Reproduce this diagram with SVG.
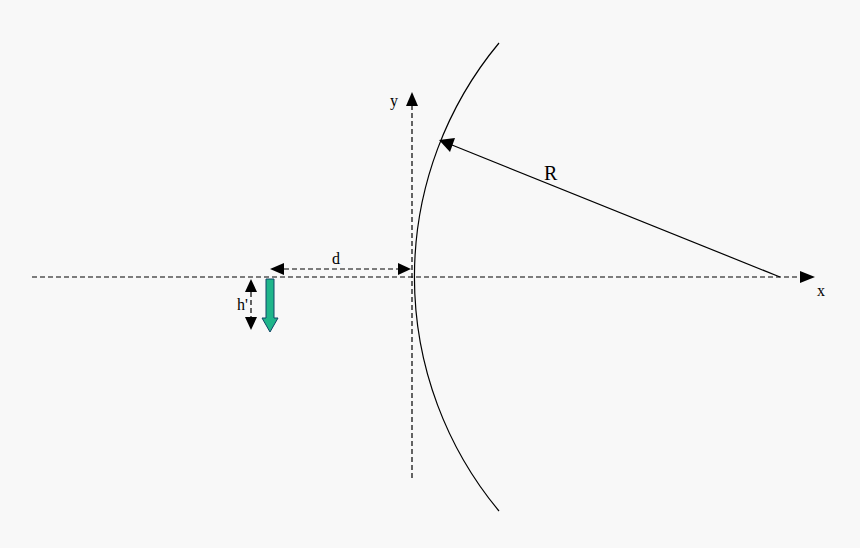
<svg xmlns="http://www.w3.org/2000/svg" width="860" height="548" viewBox="0 0 860 548">
<style>.d{stroke:#000;stroke-width:1.2;stroke-dasharray:5,3;fill:none}.t{font-family:"Liberation Serif",serif;fill:#000}</style>
<rect width="860" height="548" fill="#f8f8f8"/>
<g id="connectors">
<line class="d" x1="32" y1="277" x2="800" y2="277"/>
<polygon points="800,271 815,277 800,283"/>
<line class="d" x1="412" y1="478" x2="412" y2="106"/>
<polygon points="406,106 412,92 418,106"/>
<path d="M499,43 A366,366 0 0 0 499,511" fill="none" stroke="#000" stroke-width="1.2"/>
<line x1="452" y1="145" x2="780" y2="277" stroke="#000" stroke-width="1.2"/>
<polygon points="439,140 455,138 450,152"/>
<line class="d" x1="284" y1="269" x2="398" y2="269"/>
<polygon points="284,263 270,269 284,275"/>
<polygon points="398,263 411,269 398,275"/>
<line class="d" x1="251" y1="292" x2="251" y2="318"/>
<polygon points="245,292 251,279 257,292"/>
<polygon points="245,317 251,330 257,317"/>
</g>
<g id="object"><polygon points="266,279 274,279 274,318 278,318 270,332 262,318 266,318" fill="#1fb58a" stroke="#146" stroke-width="1"/></g>
<text class="t" x="390" y="106" font-size="16">y</text>
<text class="t" x="817" y="296" font-size="16">x</text>
<text class="t" x="544" y="180" font-size="20">R</text>
<text class="t" x="332" y="264" font-size="16">d</text>
<text class="t" x="237" y="310" font-size="16">h'</text>
</svg>
